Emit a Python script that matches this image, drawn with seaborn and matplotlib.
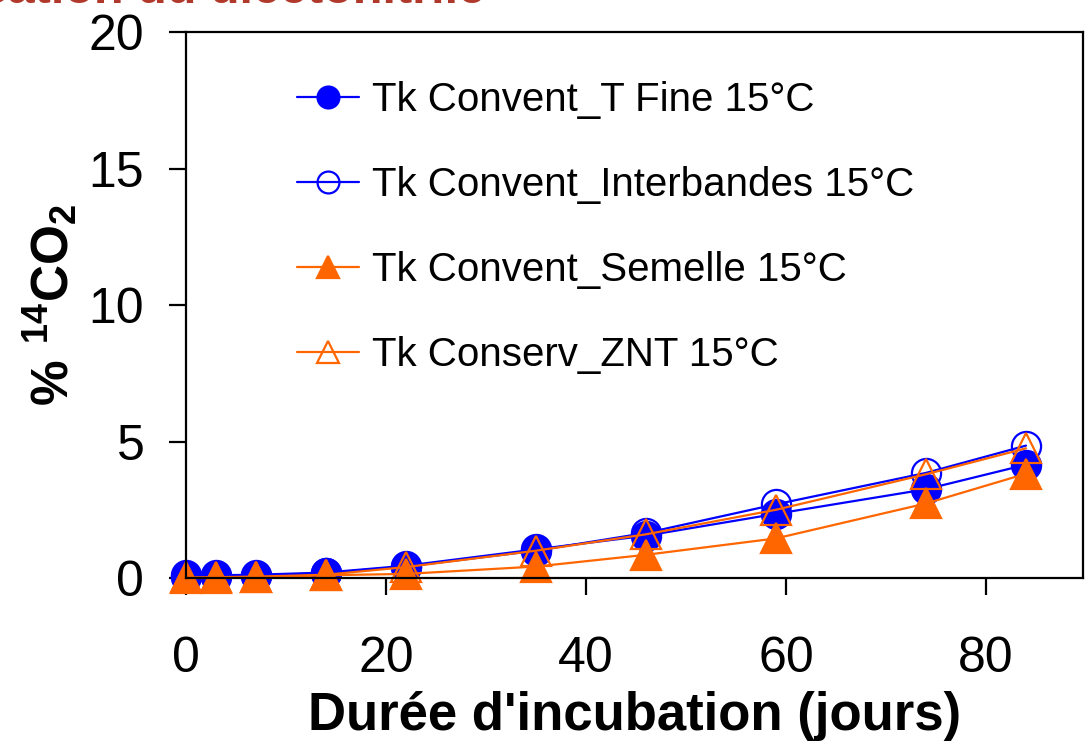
import matplotlib
matplotlib.use('Agg')
import matplotlib.pyplot as plt
import seaborn as sns

# durée d'incubation (jours)
jours = [0, 3, 7, 14, 22, 35, 46, 59, 74, 84]

# % 14CO2 cumulé
t_fine = [0.10, 0.10, 0.12, 0.20, 0.45, 1.05, 1.55, 2.35, 3.25, 4.15]
interbandes = [0.05, 0.05, 0.08, 0.18, 0.42, 1.00, 1.65, 2.70, 3.85, 4.85]
semelle = [0.00, 0.00, 0.02, 0.10, 0.15, 0.42, 0.85, 1.45, 2.73, 3.82]
znt = [0.02, 0.03, 0.05, 0.12, 0.40, 1.00, 1.60, 2.50, 3.80, 4.75]

labels = ['Tk Convent_T Fine 15°C', 'Tk Convent_Interbandes 15°C',
          'Tk Convent_Semelle 15°C', 'Tk Conserv_ZNT 15°C']

bleu = '#0000FF'
orange = '#FF6600'

sns.set_style('ticks')
plt.rcParams['font.family'] = ['Liberation Sans', 'DejaVu Sans']
plt.rcParams['text.color'] = 'black'
plt.rcParams['axes.labelcolor'] = 'black'
plt.rcParams['mathtext.fontset'] = 'custom'
plt.rcParams['mathtext.rm'] = 'Liberation Sans'
plt.rcParams['mathtext.bf'] = 'Liberation Sans:bold'

fig = plt.figure(figsize=(10.85, 7.42), dpi=100)
ax = fig.add_axes([186 / 1085, 1 - 578 / 742, 897 / 1085, 546 / 742])

# ordre de tracé : creux en dessous des pleins
series = [
    (interbandes, labels[1], bleu, 'o', 'none', 21),
    (t_fine, labels[0], bleu, 'o', bleu, 21),
    (znt, labels[3], orange, '^', 'none', 22),
    (semelle, labels[2], orange, '^', orange, 22),
]
for vals, lab, col, mk, fc, ms in series:
    sns.lineplot(x=jours, y=vals, ax=ax, color=col, lw=1.6, marker=mk,
                 markersize=ms, markerfacecolor=fc, markeredgecolor=col,
                 markeredgewidth=1.6, label=lab, clip_on=False)

ax.set_xlim(0, 89.7)
ax.set_ylim(0, 20)
ax.set_xticks([0, 20, 40, 60, 80])
ax.set_yticks([0, 5, 10, 15, 20])
for s in ax.spines.values():
    s.set_linewidth(1.6)
    s.set_color('black')
ax.tick_params(axis='both', direction='out', length=12, width=1.6,
               labelsize=36, colors='black')
ax.tick_params(axis='x', pad=30)
ax.tick_params(axis='y', pad=18)

ax.set_xlabel("Durée d'incubation (jours)", fontsize=38, fontweight='bold',
              labelpad=6)
ax.set_ylabel(r'$\mathbf{\%\ ^{14}CO_{2}}$', fontsize=37, labelpad=6)

handles, labs = ax.get_legend_handles_labels()
order = [labs.index(l) for l in labels]
ax.legend([handles[i] for i in order], labels, loc='upper left',
          bbox_to_anchor=(297 / 1085, 1 - 81 / 742),
          bbox_transform=fig.transFigure, frameon=False, fontsize=29,
          handlelength=1.55, handletextpad=0.3, labelspacing=1.17,
          borderpad=0, borderaxespad=0, markerscale=0.75)

fig.text(485 / 1085, 1 - 3 / 742, 'Minéralisation du dicétonitrile',
         ha='right', va='baseline', fontsize=35, fontweight='bold',
         color='#B0392B')

fig.savefig('out.png', dpi=100)
